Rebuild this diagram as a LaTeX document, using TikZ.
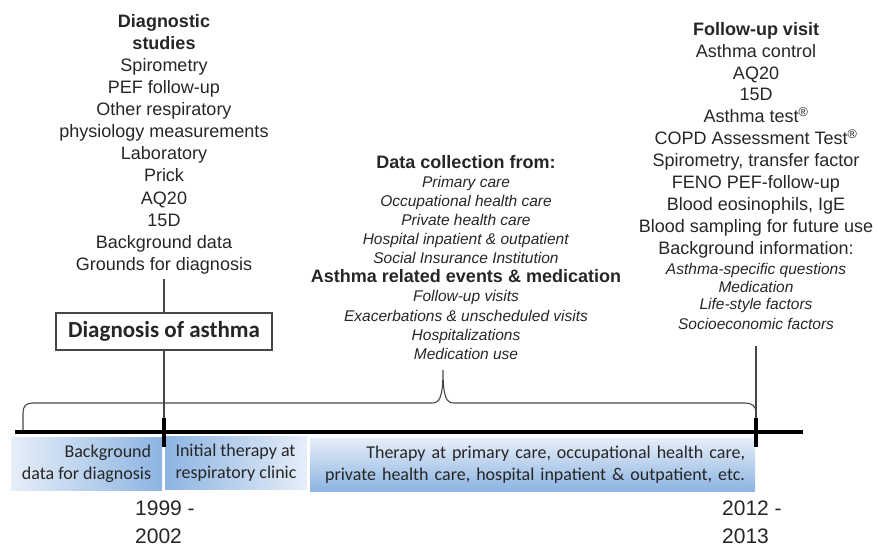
\documentclass[tikz,border=0pt]{standalone}
\usepackage{fontspec}
\setmainfont{Liberation Sans}
\newfontfamily\calibri{Carlito}
\usepackage{tikz}
\usetikzlibrary{positioning}

\definecolor{inkgray}{RGB}{38,38,38}
\definecolor{linegray}{RGB}{70,70,70}
\definecolor{boxblue}{RGB}{141,180,226}
\definecolor{boxlight}{RGB}{230,238,248}

\begin{document}
\begin{tikzpicture}[
    x=1pt, y=-1pt,
    every node/.style={text=inkgray},
    column/.style={align=center, inner sep=0pt, anchor=north},
    phase/.style={inner xsep=10pt, inner ysep=0pt, minimum height=53pt, font=\calibri\fontsize{18}{22}\selectfont},
    dxstyle/.style={draw=linegray, line width=1.2pt, fill=white, minimum width=216pt, minimum height=37pt, inner sep=0pt, font=\calibri\bfseries\fontsize{23}{26}\selectfont},
    connector/.style={draw=linegray, line width=1.2pt},
    brace/.style={draw=linegray, line width=1.1pt},
    tickmark/.style={line width=4pt},
    timeline/.style={line width=4pt},
    years/.style={align=left, anchor=north west, inner sep=0pt, font=\fontsize{21}{27.5}\selectfont}
]
\useasboundingbox (0,0) rectangle (877,545);

% Diagnostic studies
\node[column, font=\fontsize{18}{22.1}\selectfont] (diag) at (164,14) {\textbf{Diagnostic}\\\textbf{studies}\\Spirometry\\PEF follow-up\\Other respiratory\\physiology measurements\\Laboratory\\Prick\\AQ20\\15D\\Background data\\Grounds for diagnosis};
\node[dxstyle] (dxbox) at (164,331.5) {Diagnosis of asthma};

% Data collection
\node[column, font=\fontsize{15.5}{19.1}\selectfont] (data) at (466,155) {{\bfseries\fontsize{18}{19.1}\selectfont Data collection from:}\\\textit{Primary care}\\\textit{Occupational health care}\\\textit{Private health care}\\\textit{Hospital inpatient \& outpatient}\\\textit{Social Insurance Institution}\\{\bfseries\fontsize{18}{19.1}\selectfont Asthma related events \& medication}\\\textit{Follow-up visits}\\\textit{Exacerbations \& unscheduled visits}\\\textit{Hospitalizations}\\\textit{Medication use}};

% Follow-up visit
\node[column, font=\fontsize{18}{21.9}\selectfont] (fu) at (756,22) {\textbf{Follow-up visit}\\Asthma control\\AQ20\\15D\\Asthma test\textsuperscript{®}\\COPD Assessment Test\textsuperscript{®}\\Spirometry, transfer factor\\FENO PEF-follow-up\\Blood eosinophils, IgE\\Blood sampling for future use\\Background information:\\[-2pt]{\itshape\fontsize{15.5}{19}\selectfont Asthma-specific questions}\\[-4pt]{\itshape\fontsize{15.5}{19}\selectfont Medication}\\[-4pt]{\itshape\fontsize{15.5}{19}\selectfont Life-style factors}\\[-2pt]{\itshape\fontsize{15.5}{19}\selectfont Socioeconomic factors}};

% Phases below the time line
\node[phase, left color=boxlight, right color=boxblue, minimum width=151pt, align=right] (bgbox) at (86.5,463.5) {Background\\data for diagnosis};
\node[phase, left color=boxblue, right color=boxlight, minimum width=142pt, align=left] (initbox) at (236,463) {Initial therapy at\\respiratory clinic};
\node[phase, top color=boxlight, bottom color=boxblue, text width=425pt, align=right] (therbox) at (532.5,464.5) {Therapy at primary care, occupational health care,\\private health care, hospital inpatient \& outpatient, etc.};

% Time line
\coordinate (tlstart) at (15,432);
\coordinate (tlend) at (803,432);
\coordinate (tickL) at (164,432);
\coordinate (tickR) at (756,432);
\draw[timeline] (tlstart) -- (tlend);

% Brace over the follow-up period
\draw[brace] (23,430) -- (23,413) .. controls (23,406) and (26,403) .. (33,403) -- (432,403) .. controls (439,403) and (443,399) .. (443,370) .. controls (443,399) and (447,403) .. (454,403) -- (745,403) .. controls (752,403) and (756,406) .. (756,413);

% Connectors and ticks
\draw[connector, shorten <=5pt] (diag) -- (dxbox);
\draw[connector] (dxbox) -- ([yshift=-15pt]tickL);
\draw[connector, shorten <=16pt] (fu) -- ([yshift=-15pt]tickR);
\draw[tickmark] ([yshift=14pt]tickL) -- ([yshift=-15pt]tickL);
\draw[tickmark] ([yshift=14pt]tickR) -- ([yshift=-15pt]tickR);

% Years
\node[years] (startyr) at (135,501) {1999 -\\2002};
\node[years] (endyr) at (722,501) {2012 -\\2013};

\end{tikzpicture}
\end{document}
